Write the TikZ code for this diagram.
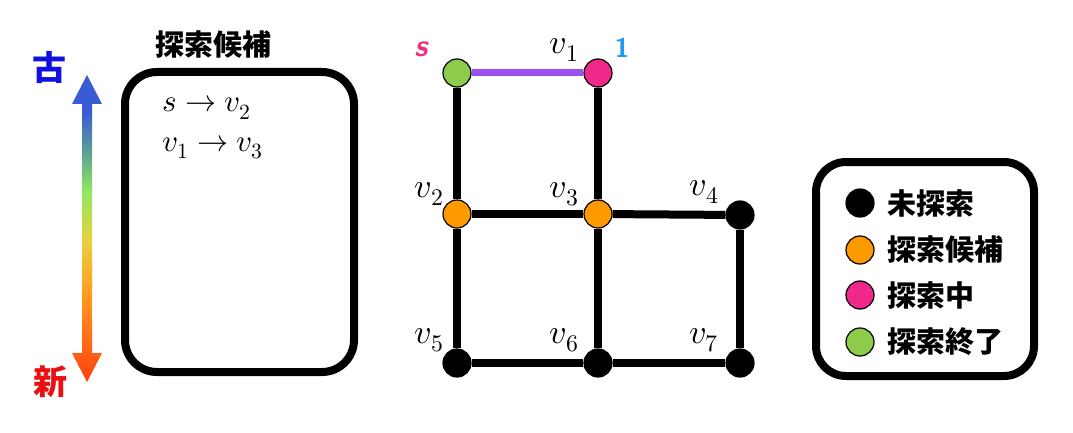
\documentclass[tikz,border=0pt]{standalone}
\usepackage{fontspec}
\usepackage{unicode-math}
\setmathfont{Latin Modern Math}
\newfontfamily\cjk{Noto Sans CJK JP}
\usetikzlibrary{backgrounds}
\definecolor{cblue}{HTML}{3A5BD6}
\definecolor{cteal}{HTML}{5A9A98}
\definecolor{cgreen}{HTML}{90E860}
\definecolor{cyellow}{HTML}{E8D040}
\definecolor{corange}{HTML}{FFA020}
\definecolor{cred}{HTML}{FF4010}
\definecolor{nodegreen}{HTML}{8DCB4A}
\definecolor{nodepink}{HTML}{F0288A}
\definecolor{nodeorange}{HTML}{FF9900}
\definecolor{edgepurple}{HTML}{9B50F0}
\definecolor{lblpink}{HTML}{F0307F}
\definecolor{lblblue}{HTML}{1E9BEF}
\definecolor{oldblue}{HTML}{1010E0}
\definecolor{newred}{HTML}{E81010}
\pgfdeclareverticalshading{agegrad}{100bp}{color(0bp)=(cred); color(25bp)=(cred); color(40bp)=(corange); color(48bp)=(cyellow); color(56bp)=(cgreen); color(63bp)=(cteal); color(69bp)=(cblue); color(75bp)=(cblue); color(100bp)=(cblue)}
\tikzset{
  vert/.style={circle, draw=black, line width=1.2pt, minimum size=28pt, inner sep=0pt},
  edge/.style={line width=8pt, black},
  vlabel/.style={font=\fontsize{34}{36}\selectfont, inner sep=0pt},
  jp/.style={font=\cjk\bfseries\fontsize{29}{31}\selectfont, inner sep=0pt},
  frame/.style={draw=black, line width=8pt, rounded corners=32pt},
  candtext/.style={anchor=base west, inner sep=0pt, font=\fontsize{31}{33}\selectfont},
}
\begin{document}
\begin{tikzpicture}[x=1pt,y=-1pt]
\useasboundingbox (0,0) rectangle (1073,433);
% age arrow
\shade[shading=agegrad] (87,75) -- (102,104) -- (92,104) -- (92,353) -- (102,353) -- (87,382) -- (72,353) -- (82,353) -- (82,104) -- (72,104) -- cycle;
\node[jp, text=oldblue, font=\cjk\bfseries\fontsize{34}{36}\selectfont] (old) at (49,68) {古};
\node[jp, text=newred, font=\cjk\bfseries\fontsize{34}{36}\selectfont] (new) at (50,382) {新};
% candidate box
\node[jp] (candtitle) at (213,45) {探索候補};
\draw[frame] (125,72) rectangle (354,372);
\node[candtext] (c1) at (162,112) {$s \to v_2$};
\node[candtext] (c2) at (162,151) {$v_1 \to v_3$};
% graph nodes
\node[vert, fill=nodegreen] (s) at (457,73) {};
\node[vert, fill=nodepink] (v1) at (598,73) {};
\node[vert, fill=nodeorange] (v2) at (457,214) {};
\node[vert, fill=nodeorange] (v3) at (598,214) {};
\node[vert, fill=black] (v4) at (740,215) {};
\node[vert, fill=black] (v5) at (457,363) {};
\node[vert, fill=black] (v6) at (598,363) {};
\node[vert, fill=black] (v7) at (740,363) {};
\begin{pgfonlayer}{background}
\draw[line width=7pt, edgepurple] (s) -- (v1);
\draw[edge] (s) -- (v2);
\draw[edge] (v1) -- (v3);
\draw[edge] (v2) -- (v3);
\draw[edge] (v3) -- (v4);
\draw[edge] (v2) -- (v5);
\draw[edge] (v3) -- (v6);
\draw[edge] (v4) -- (v7);
\draw[edge] (v5) -- (v6);
\draw[edge] (v6) -- (v7);
\end{pgfonlayer}
% labels
\node[text=lblpink, font=\sffamily\bfseries\itshape\fontsize{31}{33}\selectfont, inner sep=0pt] (ls) at (421,49) {s};
\node[text=lblblue, font=\sffamily\bfseries\fontsize{27}{29}\selectfont, inner sep=0pt] (lone) at (622,48) {1};
\node[vlabel] (lv1) at (564,50) {$v_1$};
\node[vlabel] (lv2) at (429,194) {$v_2$};
\node[vlabel] (lv3) at (564,194) {$v_3$};
\node[vlabel] (lv4) at (704,192) {$v_4$};
\node[vlabel] (lv5) at (429,340) {$v_5$};
\node[vlabel] (lv6) at (564,340) {$v_6$};
\node[vlabel] (lv7) at (704,340) {$v_7$};
% legend
\draw[frame, rounded corners=30pt] (816,162) rectangle (1034,376);
\node[vert, fill=black] (k1) at (860,203) {};
\node[vert, fill=nodeorange] (k2) at (860,250) {};
\node[vert, fill=nodepink] (k3) at (860,295) {};
\node[vert, fill=nodegreen] (k4) at (860,342) {};
\node[jp, anchor=west] (t1) at (887,203) {未探索};
\node[jp, anchor=west] (t2) at (887,250) {探索候補};
\node[jp, anchor=west] (t3) at (887,295) {探索中};
\node[jp, anchor=west] (t4) at (887,342) {探索終了};
\end{tikzpicture}
\end{document}
